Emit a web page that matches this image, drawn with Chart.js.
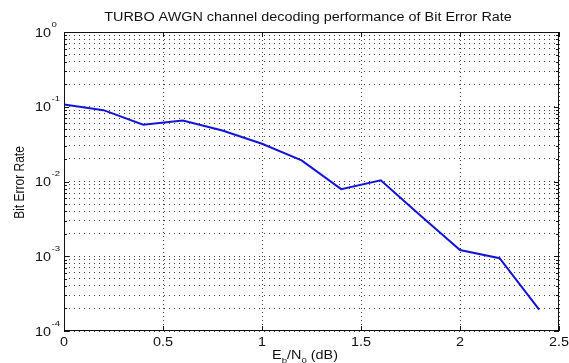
<!DOCTYPE html>
<html>
<head>
<meta charset="utf-8">
<script src="https://cdn.jsdelivr.net/npm/chart.js@4/dist/chart.umd.min.js"></script>
<style>
  html, body { margin: 0; padding: 0; background: #fff; }
  #wrap { width: 569px; height: 363px; }
</style>
</head>
<body>
<div id="wrap"><canvas id="ber"></canvas></div>
<script>
// Eb/N0 (dB) and measured bit error rate
const ebn0 = [0, 0.2, 0.4, 0.6, 0.8, 1.0, 1.2, 1.4, 1.6, 1.8, 2.0, 2.2, 2.4];
const ber = [0.107, 0.090, 0.0575, 0.0655, 0.048, 0.032, 0.0192, 0.0079, 0.0104, 0.0035, 0.00121, 0.00094, 0.000193];

const xTicks = [0, 0.5, 1, 1.5, 2, 2.5];
const xTickLabels = ['0', '0.5', '1', '1.5', '2', '2.5'];
const yDecades = [1e-4, 1e-3, 1e-2, 1e-1, 1];
const yExponents = ['-4', '-3', '-2', '-1', '0'];
const yGrid = [];
yDecades.forEach(function (d, i) {
    if (i === yDecades.length - 1) { yGrid.push(d); return; }
    for (let m = 1; m < 10; m++) yGrid.push(+(m * d).toPrecision(3));
});

const titleText = 'TURBO AWGN channel decoding performance of Bit Error Rate';
const yTitle = 'Bit Error Rate';

const FONT = '"Liberation Sans", Arial, sans-serif';
const SX = 1.2; // the reference is stretched sideways

function stretchedText(ctx, str, x, y, size, align) {
    ctx.save();
    ctx.font = size + 'px ' + FONT;
    const w = ctx.measureText(str).width * SX;
    let left = x;
    if (align === 'center') left = x - w / 2;
    else if (align === 'right') left = x - w;
    ctx.translate(left, y);
    ctx.scale(SX, 1);
    ctx.textAlign = 'left';
    ctx.textBaseline = 'alphabetic';
    ctx.fillText(str, 0, 0);
    ctx.restore();
    return w;
}

function textWidth(ctx, str, size) {
    ctx.save();
    ctx.font = size + 'px ' + FONT;
    const w = ctx.measureText(str).width * SX;
    ctx.restore();
    return w;
}

const matlabFrame = {
    id: 'matlabFrame',
    afterDraw: function (chart) {
        const ctx = chart.ctx;
        const a = chart.chartArea;
        const xs = chart.scales.x;
        const ys = chart.scales.y;

        ctx.save();
        ctx.strokeStyle = '#111';
        ctx.lineWidth = 1;
        ctx.strokeRect(a.left + 0.5, a.top + 0.5, a.right - a.left - 1, a.bottom - a.top - 1);

        // inward tick marks
        ctx.beginPath();
        xTicks.forEach(function (v) {
            const px = Math.round(xs.getPixelForValue(v)) + 0.5;
            ctx.moveTo(px, a.bottom); ctx.lineTo(px, a.bottom - 5);
            ctx.moveTo(px, a.top); ctx.lineTo(px, a.top + 5);
        });
        yGrid.forEach(function (v) {
            const py = Math.round(ys.getPixelForValue(v)) + 0.5;
            const len = yDecades.indexOf(v) >= 0 ? 5 : 3;
            ctx.moveTo(a.left, py); ctx.lineTo(a.left + len, py);
            ctx.moveTo(a.right, py); ctx.lineTo(a.right - len, py);
        });
        ctx.stroke();

        ctx.fillStyle = '#111';
        // title
        stretchedText(ctx, titleText, 308, 21, 12, 'center');

        // x tick labels
        xTicks.forEach(function (v, i) {
            stretchedText(ctx, xTickLabels[i], xs.getPixelForValue(v), 346, 12, 'center');
        });

        // y tick labels: 10 with superscript exponent
        yDecades.forEach(function (v, i) {
            const py = ys.getPixelForValue(v);
            const w = stretchedText(ctx, '10', 35, py + 4.5, 12, 'left');
            stretchedText(ctx, yExponents[i], 35 + w + 0.5, py - 5.5, 8, 'left');
        });

        // x axis title: E_b/N_0 (dB)
        const parts = [['E', 12, 0], ['b', 8, 4], ['/N', 12, 0], ['0', 8, 4], [' (dB)', 12, 0]];
        let total = 0;
        parts.forEach(function (p) { total += textWidth(ctx, p[0], p[1]); });
        let cx = 305 - total / 2;
        parts.forEach(function (p) {
            cx += stretchedText(ctx, p[0], cx, 359 + p[2], p[1], 'left');
        });

        // y axis title, rotated
        ctx.save();
        ctx.font = '12px ' + FONT;
        ctx.translate(24, 182.5);
        ctx.rotate(-Math.PI / 2);
        ctx.scale(1, SX);
        ctx.textAlign = 'center';
        ctx.textBaseline = 'alphabetic';
        ctx.fillText(yTitle, 0, 0);
        ctx.restore();

        ctx.restore();
    }
};

new Chart(document.getElementById('ber'), {
    type: 'line',
    data: {
        datasets: [{
            data: ebn0.map(function (x, i) { return { x: x, y: ber[i] }; }),
            borderColor: '#1414d8',
            borderWidth: 2,
            pointRadius: 0,
            tension: 0,
            fill: false
        }]
    },
    options: {
        responsive: true,
        maintainAspectRatio: false,
        animation: false,
        layout: { padding: { top: 32, right: 10, bottom: 0, left: 0 } },
        plugins: {
            legend: { display: false },
            tooltip: { enabled: false }
        },
        scales: {
            x: {
                type: 'linear',
                min: 0,
                max: 2.5,
                afterBuildTicks: function (s) { s.ticks = xTicks.map(function (v) { return { value: v }; }); },
                afterFit: function (s) { s.height = 32; },
                ticks: { display: false },
                grid: { color: 'rgba(0,0,0,0.75)', lineWidth: 1, drawTicks: false },
                border: { display: false, dash: [1, 3] }
            },
            y: {
                type: 'logarithmic',
                min: 1e-4,
                max: 1,
                afterBuildTicks: function (s) { s.ticks = yGrid.map(function (v) { return { value: v }; }); },
                afterFit: function (s) { s.width = 64; },
                ticks: { display: false },
                grid: { color: 'rgba(0,0,0,0.75)', lineWidth: 1, drawTicks: false },
                border: { display: false, dash: [1, 4] }
            }
        }
    },
    plugins: [matlabFrame]
});
</script>
</body>
</html>
